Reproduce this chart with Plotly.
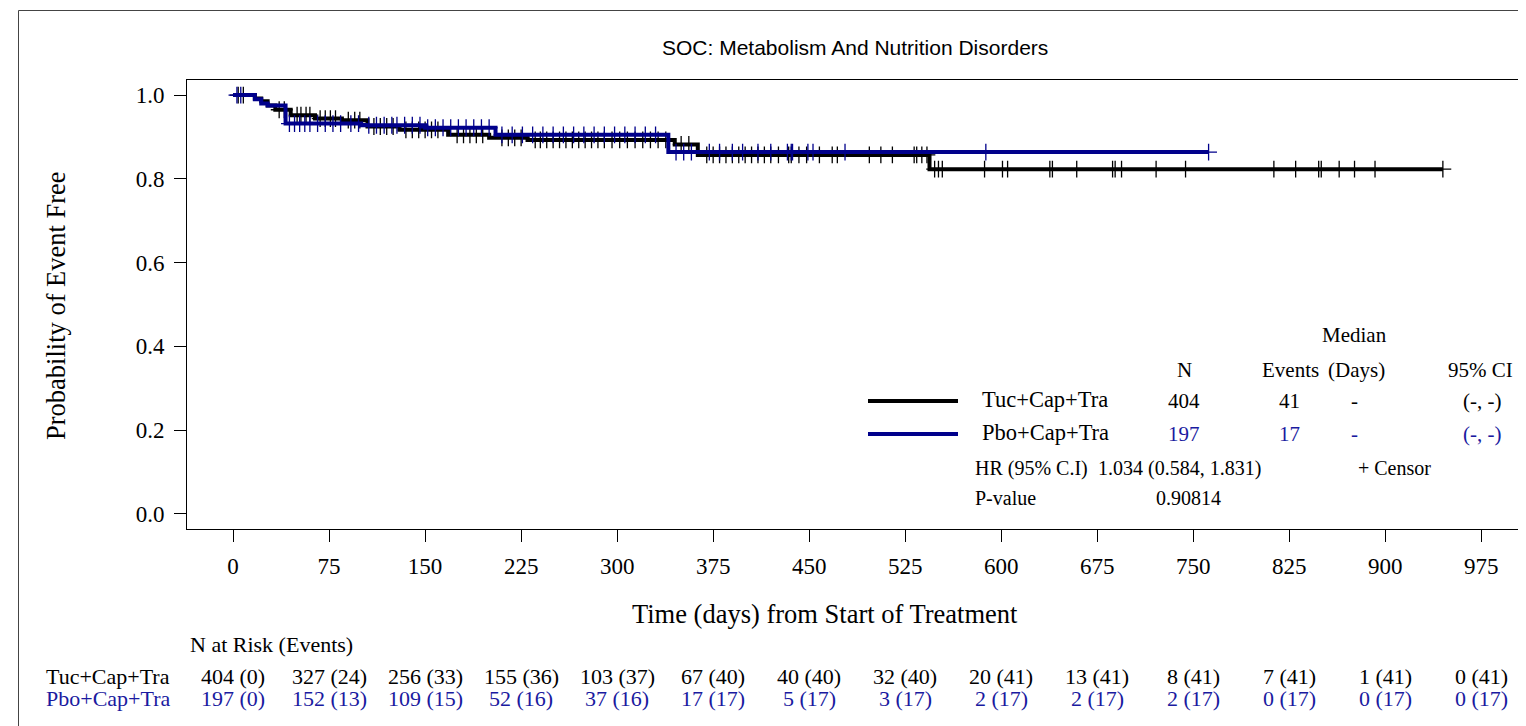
import plotly.graph_objects as go

# ---------------- data ----------------
days_ticks = [0, 75, 150, 225, 300, 375, 450, 525, 600, 675, 750, 825, 900, 975]

# Kaplan-Meier steps (time, survival)
tuc_time = [0, 17, 22, 27, 33, 45, 64, 85, 105, 130, 168, 200, 230, 345, 363, 544]
tuc_surv = [1.0, 0.992, 0.985, 0.975, 0.965, 0.952, 0.944, 0.94, 0.925, 0.917, 0.905, 0.898, 0.893, 0.882, 0.857, 0.823]
tuc_end = 945

pbo_time = [0, 17, 22, 27, 41, 100, 150, 205, 340]
pbo_surv = [1.0, 0.99, 0.98, 0.975, 0.932, 0.928, 0.922, 0.905, 0.864]
pbo_end = 762

tuc_censor = [4, 8, 36, 40, 50, 53, 57, 60, 68, 72, 76, 80, 90, 95, 99, 110, 115, 120, 125, 135,
              140, 145, 150, 155, 160, 175, 180, 185, 190, 195, 210, 215, 220, 225, 236, 240, 245,
              250, 255, 260, 265, 270, 275, 280, 285, 290, 296, 302, 308, 314, 320, 326, 332, 338,
              350, 356, 370, 375, 380, 385, 390, 395, 400, 405, 410, 415, 420, 426, 434, 436, 442,
              448, 458, 468, 472, 497, 506, 515, 532, 534, 538, 542, 548, 551, 554, 587, 601, 605,
              638, 640, 659, 687, 689, 694, 721, 744, 813, 830, 848, 850, 864, 876, 892, 945]
pbo_censor = [3, 6, 44, 48, 52, 56, 60, 66, 72, 78, 84, 92, 98, 106, 112, 118, 124, 128, 134, 140,
              146, 152, 158, 164, 170, 176, 182, 188, 194, 200, 210, 218, 226, 234, 242, 250, 258,
              266, 274, 282, 290, 298, 306, 314, 322, 330, 346, 352, 358, 372, 380, 390, 398, 410,
              420, 433, 436, 437, 449, 453, 478, 588, 762]

groups = ["Tuc+Cap+Tra", "Pbo+Cap+Tra"]
n_total = [404, 197]
n_events = [41, 17]
median_days = ["-", "-"]
median_ci = ["(-, -)", "(-, -)"]
hr_text = "1.034 (0.584, 1.831)"
p_value = "0.90814"

risk_tuc = [404, 327, 256, 155, 103, 67, 40, 32, 20, 13, 8, 7, 1, 0]
risk_tuc_ev = [0, 24, 33, 36, 37, 40, 40, 40, 41, 41, 41, 41, 41, 41]
risk_pbo = [197, 152, 109, 52, 37, 17, 5, 3, 2, 2, 2, 0, 0, 0]
risk_pbo_ev = [0, 13, 15, 16, 16, 17, 17, 17, 17, 17, 17, 17, 17, 17]

# ---------------- style ----------------
BLACK = "#000000"
BLUE = "#00008B"
BLUE_TXT = "#1a1aa0"
SERIF = "Liberation Serif, Times New Roman, serif"
SANS = "Liberation Sans Narrow, Arial Narrow, Liberation Sans, Arial, sans-serif"

W, H = 1526, 726
L, R, T, B = 179, 1520, 72, 521  # plot area in pixels


def px(x):
    return (x - L) / (R - L)


def py(y):
    return (B - y) / (B - T)


def step_at(times, surv, t):
    v = surv[0]
    for ti, si in zip(times, surv):
        if ti <= t:
            v = si
    return v


fig = go.Figure()

for times, surv, end, cens, col, name in [
    (tuc_time, tuc_surv, tuc_end, tuc_censor, BLACK, groups[0]),
    (pbo_time, pbo_surv, pbo_end, pbo_censor, BLUE, groups[1]),
]:
    xs = list(times) + [end]
    ys = list(surv) + [surv[-1]]
    fig.add_trace(go.Scatter(x=xs, y=ys, mode="lines", line=dict(color=col, width=4, shape="hv"),
                             name=name, showlegend=False, hoverinfo="skip"))
    fig.add_trace(go.Scatter(x=cens, y=[step_at(times, surv, c) for c in cens], mode="markers",
                             marker=dict(symbol="cross-thin", size=12, line=dict(color=col, width=1.3)),
                             showlegend=False, hoverinfo="skip"))

ann = []


def text(x, y, s, size=22, color=BLACK, xanchor="center", font=SERIF, xref="paper", yref="paper", angle=0):
    ann.append(dict(x=x, y=y, xref=xref, yref=yref, text=s, showarrow=False, xanchor=xanchor,
                    yanchor="middle", textangle=angle, font=dict(family=font, size=size, color=color)))


# title
text(px(847), py(40), "SOC: Metabolism And Nutrition Disorders", size=21, font=SANS)
# axis titles
text(px(48), py(298), "Probability of Event Free", size=26.5, angle=-90)
text(px(817), py(606), "Time (days) from Start of Treatment", size=26.5)

# legend block
LF = 21
text(px(1346), py(327), "Median", size=LF)
for xc, s in [(1176, "N"), (1282, "Events"), (1348, "(Days)"), (1472, "95% CI")]:
    text(px(xc), py(362), s, size=LF)
shapes = []
for i, (yy, col, tcol) in enumerate([(393, BLACK, BLACK), (426, BLUE, BLUE_TXT)]):
    shapes.append(dict(type="line", xref="paper", yref="paper", x0=px(860), x1=px(950), y0=py(yy), y1=py(yy),
                       line=dict(color=col, width=4)))
    text(px(972), py(yy - 2), groups[i], size=22.5, xanchor="left")
    text(px(1176), py(yy), str(n_total[i]), size=LF, color=tcol)
    text(px(1281), py(yy), str(n_events[i]), size=LF, color=tcol)
    text(px(1346), py(yy), median_days[i], size=LF, color=tcol)
    text(px(1474), py(yy), median_ci[i], size=LF, color=tcol)
HF = 20
text(px(965), py(460), "HR (95% C.I)", size=HF, xanchor="left")
text(px(1088), py(460), hr_text, size=HF, xanchor="left")
text(px(1386), py(460), "+ Censor", size=HF)
text(px(965), py(490), "P-value", size=HF, xanchor="left")
text(px(1180), py(490), p_value, size=HF)

# risk table
RF = 22
text(px(180), py(636), "N at Risk (Events)", size=RF, xanchor="left")
text(px(36), py(668), groups[0], size=RF, xanchor="left")
text(px(36), py(690), groups[1], size=RF, xanchor="left", color=BLUE_TXT)
for d, n1, e1, n2, e2 in zip(days_ticks, risk_tuc, risk_tuc_ev, risk_pbo, risk_pbo_ev):
    text(d, py(668), f"{n1} ({e1})", size=RF, xref="x")
    text(d, py(690), f"{n2} ({e2})", size=RF, xref="x", color=BLUE_TXT)

# outer frame
shapes.append(dict(type="line", xref="paper", yref="paper", x0=px(10.5), x1=px(10.5), y0=py(2.5), y1=py(730),
                   line=dict(color="#444444", width=1)))
shapes.append(dict(type="line", xref="paper", yref="paper", x0=px(10.5), x1=px(1530), y0=py(2.5), y1=py(2.5),
                   line=dict(color="#444444", width=1)))
# grey right edge of the plot box
shapes.append(dict(type="line", xref="paper", yref="paper", x0=1, x1=1, y0=0, y1=1,
                   line=dict(color="#888888", width=2)))

fig.update_layout(
    width=W, height=H,
    margin=dict(l=L, r=W - R, t=T, b=H - B),
    paper_bgcolor="white", plot_bgcolor="white",
    annotations=ann, shapes=shapes, showlegend=False,
    xaxis=dict(range=[-36, 1011.5], tickvals=days_ticks, ticks="outside", ticklen=12, tickwidth=1,
               tickcolor="black", showline=True, linecolor="black", linewidth=1, mirror=True,
               showgrid=False, zeroline=False, tickfont=dict(family=SERIF, size=23, color="black"),
               ticklabelstandoff=4),
    yaxis=dict(range=[-0.036, 1.036], tickvals=[0, 0.2, 0.4, 0.6, 0.8, 1.0],
               ticktext=["0.0", "0.2", "0.4", "0.6", "0.8", "1.0"], ticks="outside", ticklen=12,
               tickwidth=1, tickcolor="black", showline=True, linecolor="black", linewidth=1, mirror=True,
               showgrid=False, zeroline=False, tickfont=dict(family=SERIF, size=23, color="black"),
               ticklabelstandoff=5),
)

fig.write_html("out.html")
